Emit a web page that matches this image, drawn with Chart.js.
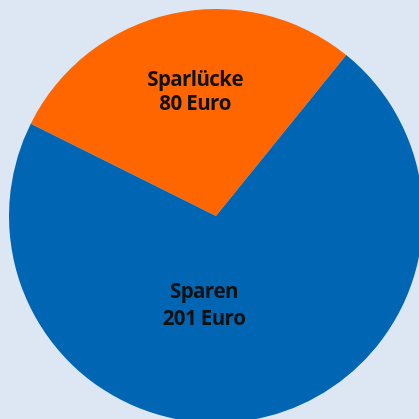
<!DOCTYPE html>
<html>
<head>
<meta charset="utf-8">
<script src="https://cdn.jsdelivr.net/npm/chart.js@4/dist/chart.umd.min.js"></script>
<style>
  html, body { margin: 0; padding: 0; width: 419px; height: 419px; overflow: hidden; background: #dde7f3; }
  #wrap { position: absolute; left: 0; top: 0; width: 440px; height: 440px; }
</style>
</head>
<body>
<div id="wrap"><canvas id="c" width="440" height="440"></canvas></div>
<script>
const categories = ["Sparlücke", "Sparen"];
const values = [80, 201];
const valueLabels = ["80 Euro", "201 Euro"];
const colors = ["#ff6600", "#0066b3"];

// label placement: offsets from pie centre as fractions of radius (x centre, baselines of two lines)
const labelOffsets = [
  {fx: -0.101, fy1: -0.628, fy2: -0.512},
  {fx: -0.058, fy1: 0.396, fy2: 0.527}
];

const labelPlugin = {
  id: 'sliceLabels',
  afterDatasetsDraw(chart) {
    const ctx = chart.ctx;
    const meta = chart.getDatasetMeta(0);
    ctx.save();
    ctx.font = "bold 20.5px 'Open Sans', sans-serif";
    if ('letterSpacing' in ctx) ctx.letterSpacing = "-0.6px";
    ctx.fillStyle = "#111111";
    ctx.textAlign = "center";
    ctx.textBaseline = "alphabetic";
    meta.data.forEach((arc, i) => {
      const r = arc.outerRadius;
      const o = labelOffsets[i];
      const x = arc.x + o.fx * r;
      ctx.fillText(categories[i], x, arc.y + o.fy1 * r);
      ctx.fillText(valueLabels[i], x, arc.y + o.fy2 * r);
    });
    ctx.restore();
  }
};

new Chart(document.getElementById('c'), {
  type: 'pie',
  data: {
    labels: categories,
    datasets: [{ data: values, backgroundColor: colors, borderWidth: 0, hoverOffset: 0 }]
  },
  options: {
    responsive: false,
    devicePixelRatio: 1,
    animation: false,
    rotation: -63.5,
    layout: { padding: { left: 9, top: 9, right: 17, bottom: 17 } },
    plugins: { legend: { display: false }, tooltip: { enabled: false } }
  },
  plugins: [labelPlugin]
});
</script>
</body>
</html>
